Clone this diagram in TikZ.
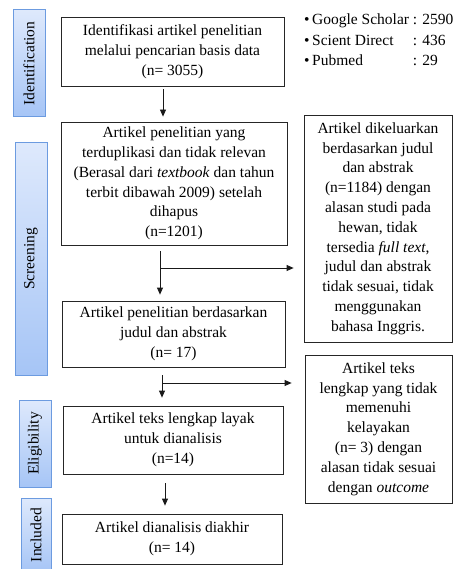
\documentclass[tikz,border=0pt]{standalone}
\usepackage{fontspec}
\setmainfont{LiberationSerif}[Extension=.ttf, UprightFont=*-Regular, ItalicFont=*-Italic,
  BoldFont=*-Bold, BoldItalicFont=*-BoldItalic]
\usepackage{tikz}
\usetikzlibrary{arrows.meta, positioning}
\definecolor{sideleft}{HTML}{DEE9FC}
\definecolor{sideright}{HTML}{A6C5F6}
\definecolor{sideline}{HTML}{6C9BE0}
\tikzset{>={Triangle[length=7pt,width=6pt]}}
\tikzset{
  stagebox/.style={draw=black!85, line width=0.8pt, align=center, inner sep=1pt,
    font=\fontsize{15.5}{19.8}\selectfont},
  phasebox/.style={draw=sideline, line width=1pt, rotate=90, top color=sideleft,
    bottom color=sideright, inner sep=0pt, minimum height=32pt,
    font=\fontsize{15.5}{18}\selectfont},
  flow/.style={->, line width=0.8pt, black!90}
}

\begin{document}
\begin{tikzpicture}[x=1pt, y=-1pt]
    \useasboundingbox (0,0) rectangle (459,569);

    % phases
    \node[phasebox, minimum width=107pt] (phIdent) at (29,63.5) {Identification};
    \node[phasebox, minimum width=232pt] (phScreen) at (31,259) {Screening};
    \node[phasebox, minimum width=87pt] (phElig) at (35,443.5) {Eligibility};
    \node[phasebox, minimum width=74pt, minimum height=30pt] (phIncl) at (36,535) {Included};

    % main column
    \node[stagebox, minimum width=223pt, minimum height=69pt] (ident) at (172.5,51.5)
        {Identifikasi artikel penelitian\\melalui pencarian basis data\\(n= 3055)};
    \node[stagebox, minimum width=226pt, minimum height=123pt] (dup) at (174,183.5)
        {Artikel penelitian yang\\terduplikasi dan tidak relevan\\(Berasal dari \textit{textbook} dan tahun\\terbit dibawah 2009) setelah\\dihapus\\(n=1201)};
    \node[stagebox, minimum width=223pt, minimum height=66pt] (title) at (173.5,334)
        {Artikel penelitian berdasarkan\\judul dan abstrak\\(n= 17)};
    \node[stagebox, minimum width=220pt, minimum height=68pt] (full) at (173,440)
        {Artikel teks lengkap layak\\untuk dianalisis\\(n=14)};
    \node[stagebox, minimum width=220pt, minimum height=50pt] (final) at (172,539)
        {Artikel dianalisis diakhir\\(n= 14)};

    % excluded
    \node[stagebox, minimum width=148pt, minimum height=227pt] (excl1) at (378,228.5)
        {Artikel dikeluarkan\\berdasarkan judul\\dan abstrak\\(n=1184) dengan\\alasan studi pada\\hewan, tidak\\tersedia \textit{full text},\\judul dan abstrak\\tidak sesuai, tidak\\menggunakan\\bahasa Inggris.};
    \node[stagebox, minimum width=147pt, minimum height=148pt] (excl2) at (378.5,429)
        {Artikel teks\\lengkap yang tidak\\memenuhi\\kelayakan\\(n= 3) dengan\\alasan tidak sesuai\\dengan \textit{outcome}};

    % databases
    \node[anchor=west, inner sep=0pt, font=\fontsize{15.5}{20.5}\selectfont] (dbase) at (304,41)
        {\begin{tabular}{@{}l@{\ }l@{}}
          \textbullet\,Google Scholar & : 2590\\
          \textbullet\,Scient Direct & : 436\\
          \textbullet\,Pubmed & : 29
        \end{tabular}};

    % arrows
    \draw[flow, shorten <=3pt, shorten >=5pt] ([xshift=-9.5pt]ident.south) -- ([xshift=-9.5pt]ident.south |- dup.north);
    \draw[flow, shorten <=6pt, shorten >=6pt] ([xshift=-14pt]dup.south) -- ([xshift=-14pt]dup.south |- title.north);
    \draw[flow, shorten <=8pt, shorten >=8pt] ([xshift=-11.5pt]title.south) -- ([xshift=-11.5pt]title.south |- full.north);
    \draw[flow, shorten <=9pt, shorten >=8pt] ([xshift=-8pt]full.south) -- ([xshift=-8pt]full.south |- final.north);

    \coordinate (split1) at (160,268);
    \coordinate (split2) at (162,383);
    \draw[flow, shorten >=10pt] (split1) -- (split1 -| excl1.west);
    \draw[flow, shorten >=13pt] (split2) -- (split2 -| excl2.west);
\end{tikzpicture}
\end{document}
